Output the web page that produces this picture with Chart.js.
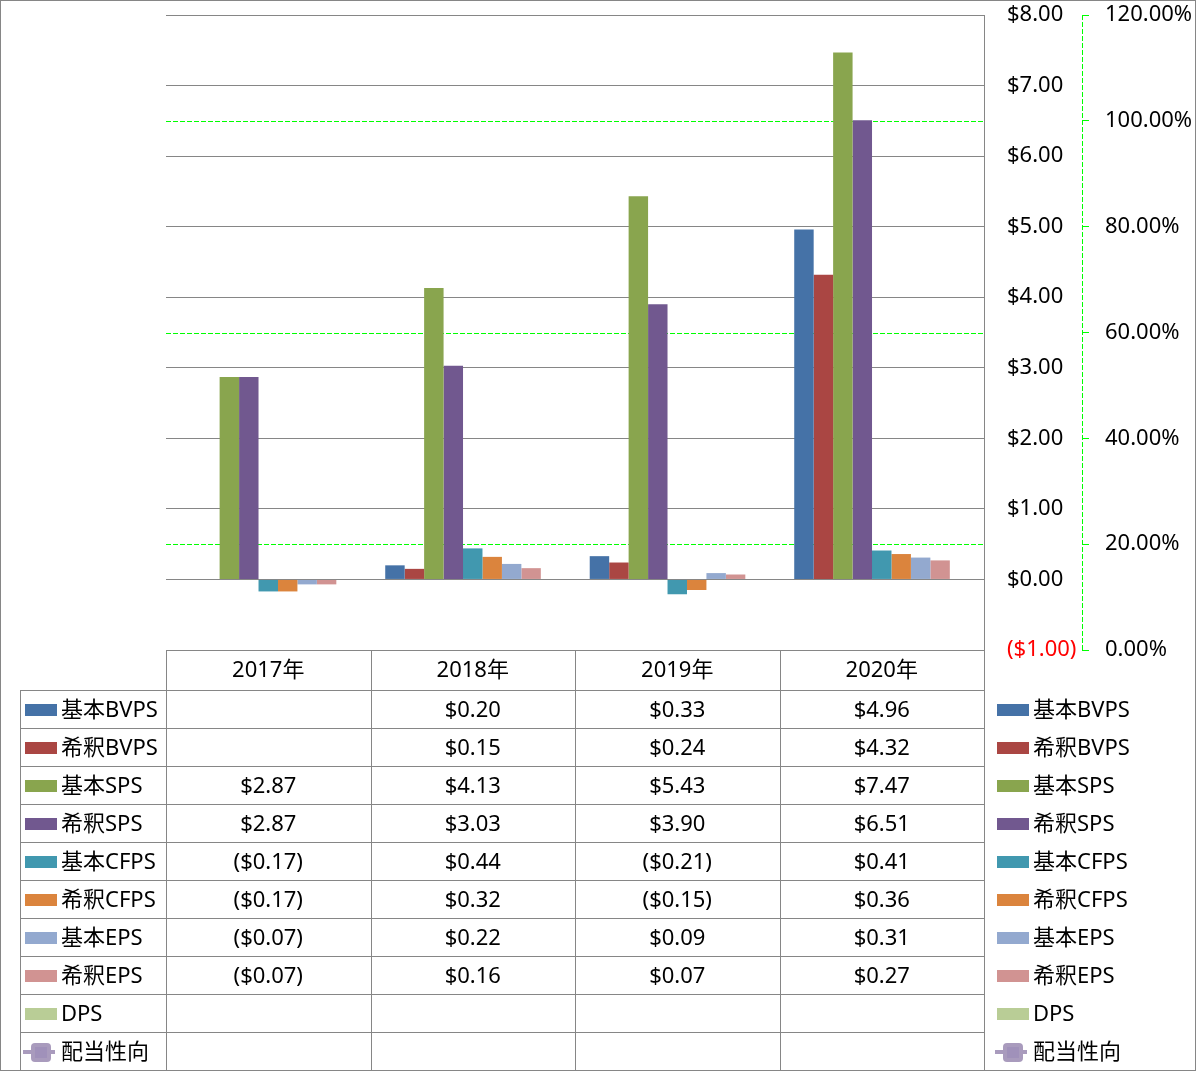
<!DOCTYPE html>
<html>
<head>
<meta charset="utf-8">
<title>BVPS / SPS / CFPS / EPS</title>
<script src="https://cdn.jsdelivr.net/npm/chart.js@4/dist/chart.umd.min.js"></script>
<style>
  html, body { margin: 0; padding: 0; background: #fff; }
  #wrap { position: relative; width: 1196px; height: 1071px; }
</style>
</head>
<body>
<div id="wrap"><canvas id="chart"></canvas></div>
<script>
// ---- data ----
const years = ['2017年', '2018年', '2019年', '2020年'];

const basicBVPS  = [null, 0.20, 0.33, 4.96];
const dilBVPS    = [null, 0.15, 0.24, 4.32];
const basicSPS   = [2.87, 4.13, 5.43, 7.47];
const dilSPS     = [2.87, 3.03, 3.90, 6.51];
const basicCFPS  = [-0.17, 0.44, -0.21, 0.41];
const dilCFPS    = [-0.17, 0.32, -0.15, 0.36];
const basicEPS   = [-0.07, 0.22, 0.09, 0.31];
const dilEPS     = [-0.07, 0.16, 0.07, 0.27];
const dps        = [null, null, null, null];
const payout     = [null, null, null, null];

const dollarTicks  = [-1, 8, 1];     // min, max, step
const percentTicks = [0, 1.2, 0.2];

// colours like the Excel palette in the picture
const COLORS = ['#4572A7', '#AA4643', '#89A54E', '#71588F', '#4198AF',
                '#DB843D', '#93A9CF', '#D19392', '#B9CD96', '#A99BBD'];

const FONT = '"Noto Sans", "Noto Sans CJK JP", sans-serif';
const GRAY = '#868686';
const LIME = '#00FF00';

function fmtDollar(v) {
  if (v === null || v === undefined) return '';
  return v < 0 ? '($' + Math.abs(v).toFixed(2) + ')' : '$' + v.toFixed(2);
}

function barSet(label, data, i) {
  return { type: 'bar', label, data, backgroundColor: COLORS[i], borderWidth: 0, yAxisID: 'y' };
}

// ---- plugin: secondary axis (dashed), data table and legends ----
const tablePlugin = {
  id: 'dataTable',
  beforeDatasetsDraw(chart) {
    const { ctx, chartArea } = chart;
    const y1 = chart.scales.y1;
    const ax = Math.round(y1.left) + 0.5;
    ctx.save();
    ctx.strokeStyle = LIME;
    ctx.lineWidth = 1;
    ctx.setLineDash([5, 2]);
    ctx.beginPath();
    // secondary grid lines that don't sit on a primary one (20%, 60%, 100%)
    y1.ticks.forEach(t => {
      if (Math.round(t.value * 100) % 40 !== 20) return;
      const yy = Math.round(y1.getPixelForValue(t.value)) + 0.5;
      ctx.moveTo(chartArea.left, yy);
      ctx.lineTo(chartArea.right, yy);
    });
    // the axis line itself
    ctx.moveTo(ax, chartArea.top);
    ctx.lineTo(ax, chartArea.bottom);
    ctx.stroke();
    ctx.restore();
  },
  afterDraw(chart) {
    const { ctx, chartArea } = chart;
    const x = chart.scales.x;
    const yScale = chart.scales.y;
    const colW = x.getPixelForValue(1) - x.getPixelForValue(0);
    const top = chartArea.bottom;
    const headH = 40, rowH = 38;
    const sets = chart.data.datasets;
    const bottom = top + headH + rowH * sets.length;
    const keyLeft = 20;
    const px = v => Math.round(v) + 0.5;

    ctx.save();
    ctx.strokeStyle = GRAY;
    ctx.lineWidth = 1;
    ctx.beginPath();
    // header row
    ctx.moveTo(chartArea.left, px(top)); ctx.lineTo(chartArea.right, px(top));
    // body rows
    for (let r = 0; r <= sets.length; r++) {
      const yy = px(top + headH + r * rowH);
      ctx.moveTo(keyLeft, yy); ctx.lineTo(chartArea.right, yy);
    }
    // column lines
    for (let c = 0; c < years.length; c++) {
      const xl = px(x.getPixelForValue(c) - colW / 2);
      ctx.moveTo(xl, top); ctx.lineTo(xl, bottom);
    }
    ctx.moveTo(px(chartArea.right), top); ctx.lineTo(px(chartArea.right), bottom);
    ctx.moveTo(px(keyLeft), top + headH); ctx.lineTo(px(keyLeft), bottom);
    ctx.stroke();

    ctx.fillStyle = '#000';
    ctx.font = '22px ' + FONT;
    ctx.textBaseline = 'middle';
    ctx.textAlign = 'center';
    years.forEach((lab, c) => ctx.fillText(lab, x.getPixelForValue(c), top + headH / 2 + 1));

    const drawKey = (ds, kx, cy) => {
      if (ds.type === 'line') {
        ctx.strokeStyle = ds.borderColor;
        ctx.lineWidth = 4;
        ctx.beginPath(); ctx.moveTo(kx - 2, cy); ctx.lineTo(kx + 30, cy); ctx.stroke();
        ctx.fillStyle = ds.pointBackgroundColor;
        ctx.beginPath();
        ctx.roundRect(kx + 6, cy - 9, 20, 19, 4);
        ctx.fill();
        ctx.fillStyle = '#A091BA';
        ctx.fillRect(kx + 10, cy - 5, 12, 11);
      } else {
        ctx.fillStyle = ds.backgroundColor;
        ctx.fillRect(kx, cy - 6, 32, 12);
      }
    };

    sets.forEach((ds, r) => {
      const cy = top + headH + r * rowH + rowH / 2 + 1;
      // left legend inside the table
      drawKey(ds, 25, cy);
      ctx.fillStyle = '#000';
      ctx.textAlign = 'left';
      ctx.fillText(ds.label, 61, cy + 1);
      // right legend
      const rx = Math.round(yScale.left) + 13;
      drawKey(ds, rx, cy);
      ctx.fillStyle = '#000';
      ctx.textAlign = 'left';
      ctx.fillText(ds.label, rx + 36, cy + 1);
      // values
      ctx.textAlign = 'center';
      ds.data.forEach((v, c) => {
        ctx.fillText(fmtDollar(v), x.getPixelForValue(c), cy + 1);
      });
    });

    // outer border of the chart
    ctx.strokeStyle = GRAY;
    ctx.lineWidth = 1;
    ctx.strokeRect(0.5, 0.5, chart.width - 1, chart.height - 1);
    ctx.restore();
  }
};

new Chart(document.getElementById('chart'), {
  data: {
    labels: years,
    datasets: [
      barSet('基本BVPS', basicBVPS, 0),
      barSet('希釈BVPS', dilBVPS, 1),
      barSet('基本SPS', basicSPS, 2),
      barSet('希釈SPS', dilSPS, 3),
      barSet('基本CFPS', basicCFPS, 4),
      barSet('希釈CFPS', dilCFPS, 5),
      barSet('基本EPS', basicEPS, 6),
      barSet('希釈EPS', dilEPS, 7),
      barSet('DPS', dps, 8),
      {
        type: 'line', label: '配当性向', data: payout, yAxisID: 'y1',
        borderColor: COLORS[9], pointBackgroundColor: COLORS[9],
        pointStyle: 'rectRounded', pointRadius: 10, borderWidth: 4
      }
    ]
  },
  options: {
    responsive: true,
    maintainAspectRatio: false,
    animation: false,
    layout: { padding: { left: 166, top: 15, right: 0, bottom: 421 } },
    datasets: { bar: { categoryPercentage: 0.856, barPercentage: 1.0 } },
    plugins: { legend: { display: false }, tooltip: { enabled: false } },
    scales: {
      x: { type: 'category', display: false, offset: true },
      y: {
        position: 'right', weight: 0,
        min: dollarTicks[0], max: dollarTicks[1],
        ticks: {
          stepSize: dollarTicks[2], padding: 23,
          font: { family: FONT, size: 22 },
          color: c => c.tick.value < 0 ? '#FF0000' : '#000',
          callback: v => fmtDollar(v)
        },
        grid: { color: GRAY, lineWidth: 1, drawTicks: false },
        border: { display: true, color: GRAY, width: 1 },
        afterFit: s => { s.width = 98; s.paddingTop = 0; s.paddingBottom = 0; }
      },
      y1: {
        position: 'right', weight: 1,
        min: percentTicks[0], max: percentTicks[1],
        ticks: {
          stepSize: percentTicks[2], padding: 16,
          font: { family: FONT, size: 22 }, color: '#000',
          callback: v => (v * 100).toFixed(2) + '%'
        },
        grid: {
          drawOnChartArea: false,
          drawTicks: true, tickLength: 7, tickColor: LIME, tickWidth: 1
        },
        border: { display: false },
        afterFit: s => { s.width = 114; s.paddingTop = 0; s.paddingBottom = 0; }
      }
    }
  },
  plugins: [tablePlugin]
});
</script>
</body>
</html>
